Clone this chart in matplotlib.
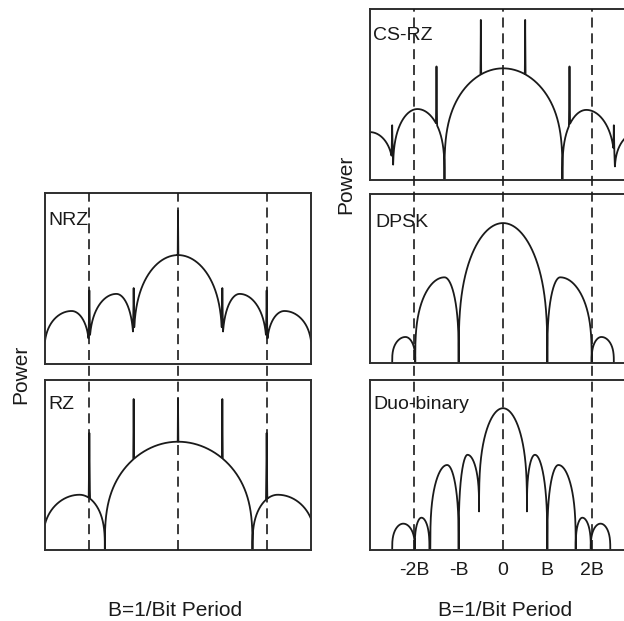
import numpy as np
import matplotlib
matplotlib.use('Agg')
import matplotlib.pyplot as plt

plt.rcParams['font.family'] = ['Liberation Sans', 'DejaVu Sans']

# ---------------- data (x in units of B, power as fraction of panel height) ----
tick_pos = [-2, -1, 0, 1, 2]
tick_labels = ['-2B', '-B', '0', 'B', '2B']
dashed_pos = [-2, 0, 2]
x_label = 'B=1/Bit Period'
y_label = 'Power'
panel_names = ['NRZ', 'RZ', 'CS-RZ', 'DPSK', 'Duo-binary']

# NRZ
nrz_lobe_from = [-3.02, -2.0, -1.0, 1.0, 2.0]
nrz_lobe_to = [-2.0, -1.0, 1.0, 2.0, 3.02]
nrz_lobe_peak_at = [-2.4, -1.39, 0.0, 1.39, 2.4]
nrz_lobe_peak = [0.31, 0.41, 0.637, 0.41, 0.31]
nrz_spike_at = [-2.0, -1.0, 0.0, 1.0, 2.0]
nrz_spike_top = [0.43, 0.444, 0.896, 0.444, 0.43]

# RZ
rz_lobe_from = [-3.05, -1.65, 1.68]
rz_lobe_to = [-1.65, 1.68, 3.09]
rz_lobe_peak_at = [-2.22, 0.0, 2.25]
rz_lobe_peak = [0.325, 0.637, 0.325]
rz_spike_at = [-2.0, -1.0, 0.0, 1.0, 2.0]
rz_spike_top = [0.688, 0.888, 0.894, 0.888, 0.688]

# CS-RZ
csrz_lobe_from = [-3.55, -2.48, -1.32, 1.34, 2.52]
csrz_lobe_to = [-2.48, -1.32, 1.34, 2.52, 3.6]
csrz_lobe_peak_at = [-3.0, -1.93, 0.0, 1.88, 3.05]
csrz_lobe_peak = [0.28, 0.415, 0.653, 0.41, 0.28]
csrz_spike_at = [-2.5, -1.5, -0.5, 0.5, 1.5, 2.5]
csrz_spike_top = [0.32, 0.664, 0.936, 0.936, 0.664, 0.32]

# DPSK
dpsk_lobe_from = [-2.5, -1.98, -1.0, 1.0, 2.0]
dpsk_lobe_to = [-1.98, -1.0, 1.0, 2.0, 2.5]
dpsk_lobe_peak_at = [-2.2, -1.32, 0.0, 1.29, 2.22]
dpsk_lobe_peak = [0.154, 0.507, 0.828, 0.507, 0.154]

# Duo-binary (levels at lobe ends where the dips do not reach zero)
duo_lobe_from = [-2.5, -1.99, -1.64, -1.0, -0.54, 0.54, 1.0, 1.64, 1.98]
duo_lobe_to = [-1.99, -1.66, -1.0, -0.54, 0.54, 1.0, 1.64, 1.98, 2.42]
duo_lobe_peak_at = [-2.25, -1.84, -1.26, -0.8, 0.0, 0.72, 1.25, 1.79, 2.2]
duo_lobe_peak = [0.155, 0.19, 0.50, 0.56, 0.834, 0.56, 0.50, 0.19, 0.155]
duo_level_from = [0, 0, 0, 0, 0.227, 0.227, 0, 0, 0]
duo_level_to = [0, 0, 0, 0.227, 0.227, 0, 0, 0, 0]

# ---------------- rendering helpers ----------------
X = np.round(np.linspace(-3.2, 3.2, 6401), 4)


def build_curve(lo, hi, px, py, y_lo=None, y_hi=None, spikes=(), tops=(), p=0.3):
    n = len(lo)
    y_lo = y_lo if y_lo is not None else [0] * n
    y_hi = y_hi if y_hi is not None else [0] * n
    y = np.full_like(X, np.nan)
    for a, b, c, h, f0, f1 in zip(lo, hi, px, py, y_lo, y_hi):
        seg = np.full_like(X, np.nan)
        left = (X >= a) & (X <= c)
        right = (X > c) & (X <= b)
        u = (X[left] - a) / (c - a)
        seg[left] = f0 + (h - f0) * np.sin(np.pi / 2 * u) ** p
        u = (b - X[right]) / (b - c)
        seg[right] = f1 + (h - f1) * np.sin(np.pi / 2 * u) ** p
        y = np.fmax(y, seg)
    for s, t in zip(spikes, tops):
        sp = t * np.clip(1 - np.abs(X - s) / 0.15, 0, 1) ** 8
        mask = ~np.isnan(y) & (np.abs(X - s) < 0.15)
        y[mask] = np.maximum(y[mask], sp[mask])
    return y


W, H = 624, 621
fig = plt.figure(figsize=(W / 100, H / 100), dpi=100)


def box(l, t, r, b):
    return [l / W, 1 - b / H, (r - l) / W, (b - t) / H]


CURVE = '#1a1a1a'
SPINE = '#2e2e2e'
TEXT = '#1a1a1a'

panels = [
    ('NRZ', box(45, 193, 311, 364),
     build_curve(nrz_lobe_from, nrz_lobe_to, nrz_lobe_peak_at, nrz_lobe_peak,
                 spikes=nrz_spike_at, tops=nrz_spike_top, p=0.28), (3, 32)),
    ('RZ', box(45, 380, 311, 550),
     build_curve(rz_lobe_from, rz_lobe_to, rz_lobe_peak_at, rz_lobe_peak,
                 spikes=rz_spike_at, tops=rz_spike_top, p=0.32), (3, 29)),
    ('CS-RZ', box(370, 9, 636, 180),
     build_curve(csrz_lobe_from, csrz_lobe_to, csrz_lobe_peak_at, csrz_lobe_peak,
                 spikes=csrz_spike_at, tops=csrz_spike_top, p=0.3), (3, 31)),
    ('DPSK', box(370, 194, 636, 363),
     build_curve(dpsk_lobe_from, dpsk_lobe_to, dpsk_lobe_peak_at, dpsk_lobe_peak,
                 p=0.32), (5, 33)),
    ('Duo-binary', box(370, 380, 636, 550),
     build_curve(duo_lobe_from, duo_lobe_to, duo_lobe_peak_at, duo_lobe_peak,
                 y_lo=duo_level_from, y_hi=duo_level_to, p=0.32), (3, 29)),
]

axes = {}
for name, rect, y, (dx, dy) in panels:
    ax = fig.add_axes(rect)
    ax.plot(X, y, color=CURVE, lw=1.3, solid_joinstyle='round')
    ax.set_xlim(-3, 3)
    ax.set_ylim(0, 1)
    ax.set_xticks([])
    ax.set_yticks([])
    for s in ax.spines.values():
        s.set_linewidth(1.4)
        s.set_color(SPINE)
    ax.annotate(name, xy=(0, 1), xycoords='axes fraction', xytext=(dx, -dy),
                textcoords='offset pixels', ha='left', va='baseline',
                fontsize=14, color=TEXT)
    axes[name] = ax

duo = axes['Duo-binary']
duo.set_xticks(tick_pos, tick_labels)
duo.tick_params(axis='x', length=0, pad=8.5, labelsize=14, labelcolor=TEXT)

# dashed reference lines spanning each column
for rect in (box(45, 193, 311, 550), box(370, 9, 636, 550)):
    ov = fig.add_axes(rect)
    ov.set_xlim(-3, 3)
    ov.set_ylim(0, 1)
    ov.axis('off')
    ov.patch.set_visible(False)
    for d in dashed_pos:
        ov.axvline(d, color='#1a1a1a', lw=1.2, ls=(0, (6, 3.5)))

fig.text(21 / W, 1 - 374 / H, y_label, rotation=90, ha='center', va='center',
         fontsize=15, color=TEXT)
fig.text(346 / W, 1 - 184 / H, y_label, rotation=90, ha='center', va='center',
         fontsize=15, color=TEXT)
fig.text(175 / W, 1 - 610 / H, x_label, ha='center', va='center',
         fontsize=15, color=TEXT)
fig.text(505 / W, 1 - 611 / H, x_label, ha='center', va='center',
         fontsize=15, color=TEXT)

fig.savefig('out.png', dpi=100, facecolor='white')
